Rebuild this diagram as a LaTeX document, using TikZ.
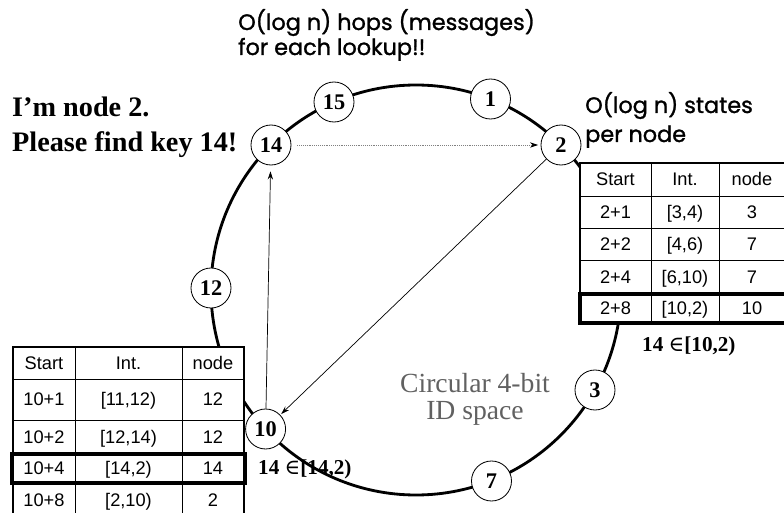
\documentclass[tikz,border=0pt]{standalone}
\usepackage{fontspec}
\setmainfont{Liberation Serif}
\newfontfamily\gothic[FakeBold=1.2]{Poppins}
\newfontfamily\arial{Liberation Sans}
\newfontfamily\dvserif{DejaVu Serif}
\usetikzlibrary{arrows.meta}
\begin{document}
\begin{tikzpicture}[x=0.85pt,y=-0.85pt,
  ring/.style={line width=2.4pt},
  idnode/.style={circle,draw,line width=0.7pt,fill=white,minimum size=34pt,inner sep=0pt,
    font=\fontsize{19}{19}\selectfont\bfseries},
  cell/.style={font=\arial\fontsize{15.5}{16}\selectfont,anchor=center,inner sep=0pt,
    text height=11pt,text depth=0pt},
  gridline/.style={line width=0.6pt},
  outer/.style={line width=2pt},
  hl/.style={line width=3.4pt},
  hop/.style={line width=0.6pt,-{Stealth[length=7pt,width=4.5pt,color=black]}},
  gothictext/.style={anchor=base west,inner sep=0pt,font=\gothic\fontsize{19}{22}\selectfont},
  speech/.style={anchor=base west,inner sep=0pt,font=\fontsize{24}{26}\selectfont\bfseries},
  member/.style={anchor=base west,inner sep=0pt,font=\fontsize{18}{20}\selectfont\bfseries},
  space/.style={anchor=base,inner sep=0pt,text=black!62,font=\fontsize{23.5}{26}\selectfont}
]
\useasboundingbox (0,0) rectangle (784,513);
\fill[white] (0,0) rectangle (784,513);

% ring
\draw[ring] (416,290) circle[radius=205];

% right finger table
\fill[white] (580,163) rectangle (786,323);
\draw[gridline] (580,196) -- (786,196) (580,228) -- (786,228) (580,260) -- (786,260)
  (651,163) -- (651,323) (719,163) -- (719,323);
\draw[outer] (786,163) -- (580,163) -- (580,323);
\draw[hl] (580,294) rectangle (786,323);
\foreach \y/\a/\b/\c [count=\i] in {179.5/Start/Int./node, 212/2+1/{[3,4)}/3, 244/2+2/{[4,6)}/7,
    277/2+4/{[6,10)}/7, 308.5/2+8/{[10,2)}/10} {
  \node[cell] (ra\i) at (615.5,\y) {\a};
  \node[cell] (rb\i) at (685,\y) {\b};
  \node[cell] (rc\i) at (752,\y) {\c};
}

% left finger table
\fill[white] (13,347) rectangle (244,525);
\draw[gridline] (13,379) -- (244,379) (13,420) -- (244,420)
  (75,347) -- (75,525) (182,347) -- (182,525);
\draw[outer] (13,525) -- (13,347) -- (244,347) -- (244,525);
\draw[hl] (12,454) rectangle (245,483);
\foreach \y/\a/\b/\c [count=\i] in {363/Start/Int./node, 399.5/10+1/{[11,12)}/12, 437/10+2/{[12,14)}/12,
    468.5/10+4/{[14,2)}/14, 500/10+8/{[2,10)}/2} {
  \node[cell] (la\i) at (44,\y) {\a};
  \node[cell] (lb\i) at (128.5,\y) {\b};
  \node[cell] (lc\i) at (213,\y) {\c};
}

% identifier nodes on the ring
\node[idnode] (n1)  at (490.5,99)  {1};
\node[idnode] (n2)  at (561,145)   {2};
\node[idnode] (n3)  at (595,390)   {3};
\node[idnode] (n7)  at (491.5,481) {7};
\node[idnode] (n10) at (265.6,429) {10};
\node[idnode] (n12) at (211,288)   {12};
\node[idnode] (n14) at (271,145)   {14};
\node[idnode] (n15) at (334,102)   {15};

% lookup hops
\draw[hop,gray,densely dotted,shorten <=5pt,shorten >=2pt] (n14) -- (n2);
\draw[hop,shorten >=1pt] (n2) -- (n10);
\draw[hop,shorten >=5pt] (n10) -- (n14);

% texts
\node[gothictext] (hops1) at (238,30) {O(log n) hops (messages)};
\node[gothictext] (hops2) at (238,55) {for each lookup!!};
\node[gothictext] (st1) at (585,113) {O(log n) states};
\node[gothictext] (st2) at (585,142) {per node};
\node[speech] (say1) at (12,117) {I'm node 2.};
\node[speech] (say2) at (12,152) {Please find key 14!};
\node[space] (circ1) at (475,393) {Circular 4-bit};
\node[space] (circ2) at (475,420) {ID space};
\node[member] (mem1) at (642,352) {14 {\dvserif\mdseries ∈}[10,2)};
\node[member] (mem2) at (258,475) {14 {\dvserif\mdseries ∈}[14,2)};
\end{tikzpicture}
\end{document}
